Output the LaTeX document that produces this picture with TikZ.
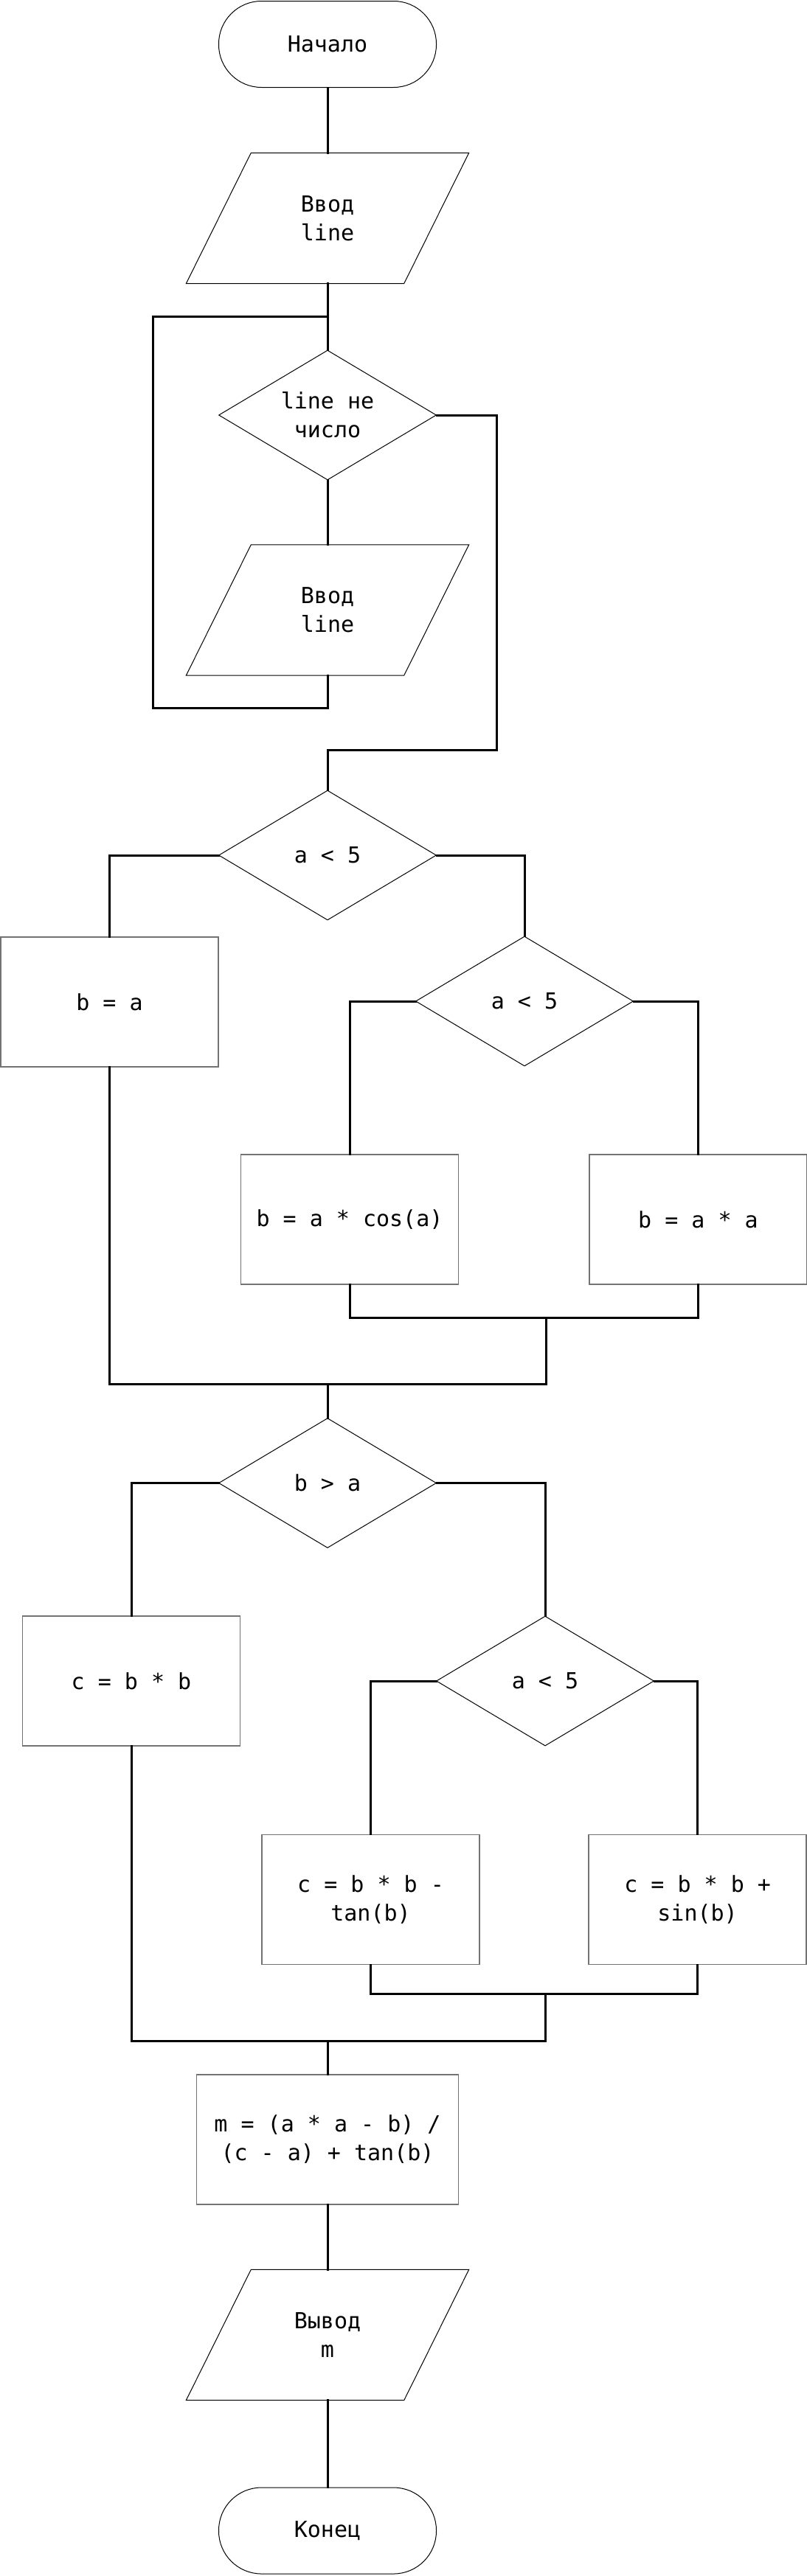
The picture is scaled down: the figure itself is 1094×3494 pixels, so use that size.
\documentclass[tikz,border=0pt]{standalone}
\usepackage{fontspec}
\setmonofont{DejaVu Sans Mono}
\usetikzlibrary{shapes.geometric}
\tikzset{
  conn/.style={draw=black, line width=3pt, line cap=rect},
  txt/.style={font=\ttfamily\fontsize{30}{39}\selectfont, align=center, inner sep=0pt, text=black},
  term/.style={txt, draw=black, line width=1pt, rounded corners=58pt, minimum width=295pt, minimum height=117pt},
  iobox/.style={txt, minimum width=295pt, minimum height=177pt},
  proc/.style={txt, draw=black!55, line width=1.3pt, minimum width=295pt, minimum height=176pt},
  decis/.style={txt, diamond, aspect=1.676, draw=black, line width=1pt, minimum width=295pt, minimum height=176pt},
  shapeline/.style={draw=black, line width=1pt, line join=miter}
}
\newcommand\ioshape[1]{\draw[shapeline] ([xshift=44pt]#1.north west) -- ([xshift=44pt]#1.north east) -- ([xshift=-44pt]#1.south east) -- ([xshift=-44pt]#1.south west) -- cycle;}
\begin{document}
\begin{tikzpicture}[x=1pt,y=-1pt]
\useasboundingbox[fill=white] (0,0) rectangle (1094,3494);
% nodes
\node[term] (start) at (444,60) {Начало};
\node[iobox] (in1) at (444,296) {Ввод\\line};
\ioshape{in1}
\node[decis] (dec1) at (444,563) {line не\\число};
\node[iobox] (in2) at (444,827.5) {Ввод\\line};
\ioshape{in2}
\node[decis] (dec2) at (444,1160) {a < 5};
\node[proc] (box1) at (148.5,1359) {b = a};
\node[decis] (dec3) at (711,1358) {a < 5};
\node[proc] (boxcos) at (474,1654) {b = a * cos(a)};
\node[proc] (boxaa) at (946.5,1654) {b = a * a};
\node[decis] (dec4) at (444,2011.5) {b > a};
\node[proc] (boxc) at (178,2280) {c = b * b};
\node[decis] (dec5) at (739,2280) {a < 5};
\node[proc] (boxtan) at (502.5,2576.5) {c = b * b -\\tan(b)};
\node[proc] (boxsin) at (945.6,2576.5) {c = b * b +\\sin(b)};
\node[proc, minimum width=354.5pt] (boxm) at (444,2902) {m = (a * a - b) /\\(c - a) + tan(b)};
\node[iobox] (out) at (444,3167) {Вывод\\m};
\ioshape{out}
\node[term] (end) at (444,3432.5) {Конец};
% junction coordinates
\coordinate (loopbl) at (207,960);
\coordinate (looptl) at (207,429);
\coordinate (loopj) at (444,429);
\coordinate (r1) at (673,1017);
\coordinate (m1) at (740.5,1787);
\coordinate (m2) at (740.5,1877);
\coordinate (m3) at (444,1877);
\coordinate (n1) at (739,2704);
\coordinate (n2) at (739,2768);
\coordinate (n3) at (444,2768);
% connectors
\draw[conn] (start.south) -- (in1.north);
\draw[conn] (in1.south) -- (dec1.north);
\draw[conn] (dec1.south) -- (in2.north);
\draw[conn] (in2.south) |- (loopbl) -- (looptl) -- (loopj);
\draw[conn] (dec1.east) -| (r1) -| (dec2.north);
\draw[conn] (dec2.west) -| (box1.north);
\draw[conn] (dec2.east) -| (dec3.north);
\draw[conn] (dec3.west) -| (boxcos.north);
\draw[conn] (dec3.east) -| (boxaa.north);
\draw[conn] (boxcos.south) |- (m1);
\draw[conn] (boxaa.south) |- (m1);
\draw[conn] (m1) -- (m2) -| (dec4.north);
\draw[conn] (box1.south) |- (m3);
\draw[conn] (dec4.west) -| (boxc.north);
\draw[conn] (dec4.east) -| (dec5.north);
\draw[conn] (dec5.west) -| (boxtan.north);
\draw[conn] (dec5.east) -| (boxsin.north);
\draw[conn] (boxtan.south) |- (n1);
\draw[conn] (boxsin.south) |- (n1);
\draw[conn] (n1) -- (n2) -| (boxm.north);
\draw[conn] (boxc.south) |- (n3);
\draw[conn] (boxm.south) -- (out.north);
\draw[conn] (out.south) -- (end.north);
\end{tikzpicture}
\end{document}
